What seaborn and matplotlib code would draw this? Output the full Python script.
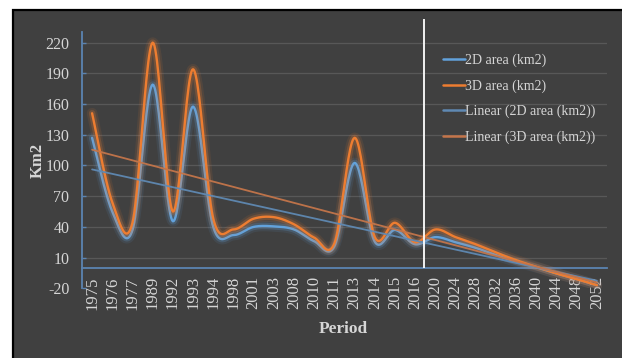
import numpy as np
import pandas as pd
import matplotlib
matplotlib.use("Agg")
import matplotlib.pyplot as plt
import matplotlib.patheffects as pe
from matplotlib.patches import Rectangle
from matplotlib.lines import Line2D
import seaborn as sns

# Observed and projected glacier area per period
periods = ["1975", "1976", "1977", "1989", "1992", "1993", "1994", "1998", "2001",
           "2003", "2008", "2010", "2011", "2013", "2014", "2015", "2016", "2020",
           "2024", "2028", "2032", "2036", "2040", "2044", "2048", "2052"]
area_2d = [127, 55, 37, 179, 45.5, 157.5, 40, 32, 40, 40.5, 37.5, 26, 21, 102.5,
           25.5, 37, 23, 30, 25, 19.5, 12.5, 6, 0.5, -5.5, -11, -17]
area_3d = [151, 64, 44, 220, 55, 194, 48, 37.5, 48, 49.5, 42.5, 29.5, 24, 127,
           30, 44, 25, 37.5, 30, 23, 15, 7.5, 1, -5.5, -11, -17]
y_ticks = list(range(-20, 221, 30))
labels = ["2D area (km2)", "3D area (km2)", "Linear (2D area (km2))", "Linear (3D area (km2))"]

BG = "#404040"
TXT = "#d6d6d6"
BLUE = "#62a2dc"
ORANGE = "#ed7d31"
LIN_BLUE = "#5f89b3"
LIN_ORANGE = "#c4754a"
AXIS = "#5b84b1"

sns.set_theme(style="dark")
plt.rcParams["font.family"] = ["Liberation Serif", "DejaVu Serif"]


def smooth(xs, ys, n=24):
    """Smoothed line through every point (cubic Bezier, Catmull-Rom tangents)."""
    p = np.column_stack([xs, ys]).astype(float)
    out = [p[0]]
    t = np.linspace(0, 1, n)[1:, None]
    for i in range(len(p) - 1):
        p0 = p[i - 1] if i > 0 else p[i]
        p1, p2 = p[i], p[i + 1]
        p3 = p[i + 2] if i + 2 < len(p) else p[i + 1]
        c1 = p1 + (p2 - p0) / 6.0
        c2 = p2 - (p3 - p1) / 6.0
        seg = ((1 - t) ** 3) * p1 + 3 * ((1 - t) ** 2) * t * c1 + 3 * (1 - t) * t ** 2 * c2 + t ** 3 * p2
        out.extend(seg)
    out = np.array(out)
    return out[:, 0], out[:, 1]


def glow(color, w):
    return [pe.Stroke(linewidth=w + 6, foreground=color, alpha=0.10),
            pe.Stroke(linewidth=w + 3, foreground=color, alpha=0.22),
            pe.Normal()]


W, H = 622, 358
fig = plt.figure(figsize=(W / 100, H / 100), dpi=100)
fig.patch.set_facecolor("white")
frame = Rectangle((12.5 / W, -0.01), 1.0, 1 - 9.5 / H + 0.01, transform=fig.transFigure,
                  facecolor=BG, edgecolor="black", linewidth=1.6)
frame.set_zorder(-10)
fig.patches.append(frame)

ax = fig.add_axes([82 / W, 1 - 288.3 / H, (607 - 82) / W, (288.3 - 32.4) / H])
ax.set_facecolor("none")
ax.set_zorder(1)

idx = np.arange(len(periods))
df = pd.DataFrame({"idx": idx, "period": periods, "2D": area_2d, "3D": area_3d})

# horizontal gridlines
for v in y_ticks[1:]:
    ax.axhline(v, color="#585858", lw=0.9, zorder=0)

# linear trends of each series
fit2 = np.polyfit(df["idx"], df["2D"], 1)
fit3 = np.polyfit(df["idx"], df["3D"], 1)
trend = pd.DataFrame({"idx": idx, "t2": np.polyval(fit2, idx), "t3": np.polyval(fit3, idx)})

# smoothed data lines
sx2, sy2 = smooth(df["idx"], df["2D"])
sx3, sy3 = smooth(df["idx"], df["3D"])
sns.lineplot(x=sx2, y=sy2, sort=False, estimator=None, color=BLUE, lw=1.7, ax=ax, zorder=3,
             path_effects=glow(BLUE, 1.7))
sns.lineplot(x=sx3, y=sy3, sort=False, estimator=None, color=ORANGE, lw=1.7, ax=ax, zorder=4,
             path_effects=glow(ORANGE, 1.7))
sns.lineplot(data=trend, x="idx", y="t2", color=LIN_BLUE, lw=1.3, ax=ax, zorder=5, alpha=0.95)
sns.lineplot(data=trend, x="idx", y="t3", color=LIN_ORANGE, lw=1.3, ax=ax, zorder=5, alpha=0.95)

# divider between observed and projected periods
split_at = periods.index("2016") + 0.43
ax.vlines(split_at, 0, 243, color="white", lw=1.3, zorder=6, clip_on=False)

ax.set_xlim(-0.5, len(periods) - 0.5)
ax.set_ylim(-20, 230)
ax.set_xticks(idx)
ax.set_xticks(np.arange(-0.5, len(periods), 1), minor=True)
ax.set_xticklabels(periods)
ax.set_yticks(y_ticks)
ax.set_yticklabels([str(v) for v in y_ticks])
ax.tick_params(axis="x", which="major", length=0, pad=6, labelrotation=90,
               labelsize=12, labelcolor=TXT)
ax.tick_params(axis="x", which="minor", length=3, width=1, color=AXIS, direction="in")
ax.tick_params(axis="y", length=3, width=1, color=AXIS, direction="in", pad=9, left=True,
               labelsize=11.5, labelcolor=TXT)
ax.set_xlabel("")
ax.set_ylabel("")
ax.grid(False)

for s in ["top", "right"]:
    ax.spines[s].set_visible(False)
ax.spines["bottom"].set_position(("data", 0))
for s in ["left", "bottom"]:
    ax.spines[s].set_visible(True)
    ax.spines[s].set_color(AXIS)
    ax.spines[s].set_linewidth(1.3)

fig.text(38 / W, 1 - 160 / H, "Km2", rotation=90, ha="center", va="center",
         color=TXT, fontsize=12, fontweight="bold")
fig.text(343 / W, 1 - 329 / H, "Period", ha="center", va="center",
         color=TXT, fontsize=12.5, fontweight="bold")

handles = [Line2D([], [], color=c, lw=1.8) for c in [BLUE, ORANGE, LIN_BLUE, LIN_ORANGE]]
leg = fig.legend(handles, labels, loc="upper left", bbox_to_anchor=(443 / W, 1 - 53.5 / H),
                 frameon=False, fontsize=10, handlelength=1.55, handletextpad=0.05,
                 labelspacing=0.88, borderpad=0, borderaxespad=0)
for t in leg.get_texts():
    t.set_color(TXT)

fig.savefig("out.png", dpi=100, facecolor=fig.get_facecolor())
